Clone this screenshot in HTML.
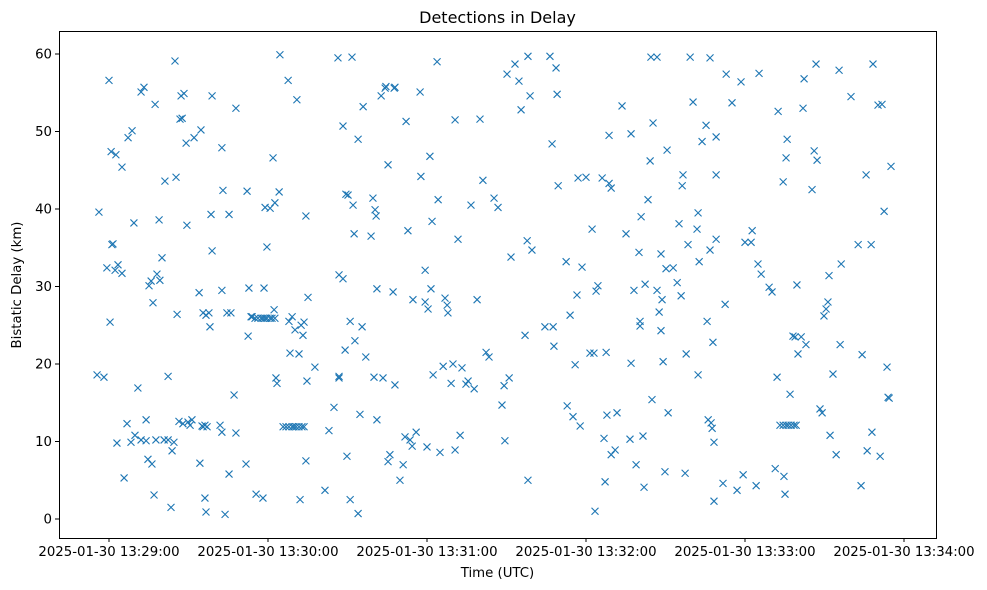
<!DOCTYPE html>
<html><head><meta charset="utf-8">
<style>
html,body{margin:0;padding:0;background:#fff;}
svg{display:block;font-family:"DejaVu Sans","Liberation Sans",sans-serif;}
</style></head>
<body>
<svg id="chart" width="987" height="590" viewBox="0 0 987 590" xmlns="http://www.w3.org/2000/svg">
<rect width="987" height="590" fill="#fff"/>
<text x="497.5" y="23" font-size="16" text-anchor="middle" fill="#000">Detections in Delay</text>
<g id="marks"></g>
<rect x="59.5" y="31.5" width="877" height="507" fill="none" stroke="#000" stroke-width="1"/>
<g id="xticks"></g>
<g id="yticks"></g>
<text x="497.5" y="577" font-size="13.3" text-anchor="middle">Time (UTC)</text>
<text transform="translate(21,285) rotate(-90)" font-size="13.3" text-anchor="middle">Bistatic Delay (km)</text>
</svg>
<script>
// seconds since 2025-01-30 13:29:00 UTC
const timeSec = [-4.5,-3.8,-1.9,-0.8,0,0.4,0.8,1.1,1.5,2.3,2.6,3.0,3.4,4.9,4.9,5.7,6.8,7.2,8.3,8.7,9.4,9.8,10.9,12.1,12.1,13.2,14.0,14.0,14.7,15.1,15.9,16.2,16.6,17.0,17.4,17.7,18.1,18.9,19.2,20.0,20.8,21.1,22.3,22.3,23.4,23.8,24.5,24.9,25.3,25.7,26.4,26.8,27.2,27.6,27.9,28.3,29.1,29.4,29.8,30.6,31.3,32.1,34.0,34.3,34.7,35.1,35.5,35.5,36.2,36.2,36.6,36.6,37.0,37.7,38.1,38.5,38.9,38.9,42.6,41.9,42.6,42.6,43.0,43.8,44.5,45.3,45.3,46.0,47.9,47.9,47.2,51.7,52.1,52.5,52.8,53.6,54.0,
55.1,56.2,57.4,58.1,58.9,59.6,60.8,61.5,62.6,55.5,58.1,58.5,59.6,58.9,60.8,61.9,62.3,62.6,63.0,63.4,64.2,64.5,
65.7,66.8,67.9,69.1,69.8,70.6,71.7,72.8,73.6,67.6,67.9,68.3,69.1,70.2,70.9,71.7,72.1,72.5,73.2,73.6,74.3,74.3,74.7,75.1,77.7,81.5,83.0,84.9,86.4,86.8,86.8,86.8,88.3,88.3,89.1,89.4,89.8,90.2,91.0,91.0,91.7,92.1,92.5,92.8,94.0,94.0,94.7,95.5,95.9,96.9,98.9,99.6,100.0,100.4,100.8,101.1,101.1,102.7,103.4,104.2,104.5,105.3,105.3,106.0,107.2,107.6,107.9,107.9,109.8,111.0,111.7,112.1,112.8,113.6,114.4,114.7,115.9,117.4,117.7,119.3,119.3,120.0,120.4,121.1,121.5,121.9,122.3,123.8,124.2,124.9,126.1,126.8,127.6,127.9,129.1,129.8,130.6,130.6,131.7,132.5,133.2,134.7,135.5,136.6,137.8,138.9,140.0,141.1,142.3,143.4,145.3,146.8,148.3,149.1,149.4,150.2,151.0,151.7,153.2,154.7,155.5,157.0,157.8,158.1,158.1,158.9,159.6,164.5,166.4,167.2,167.6,167.9,168.7,169.1,169.5,172.5,172.9,174.0,175.1,175.9,176.6,177.0,177.8,178.5,180.0,181.5,182.3,183.0,183.4,183.8,184.5,186.1,186.8,187.2,187.6,187.9,188.7,188.7,189.5,189.5,191.0,191.7,193.6,195.1,196.6,197.0,197.0,198.1,198.9,200.0,200.4,200.4,200.8,201.5,201.9,202.3,203.4,204.2,204.5,204.9,205.3,206.8,206.8,207.6,208.3,208.3,208.7,209.1,209.8,210.2,210.6,211.0,212.9,214.4,215.1,215.9,216.3,216.6,217.4,217.8,218.5,219.3,220.4,221.9,222.3,222.3,222.7,223.8,225.3,225.7,226.1,226.8,226.8,227.2,227.6,227.9,228.3,228.3,229.1,229.1,229.1,231.7,232.5,232.9,235.1,237.0,238.5,239.3,240.0,242.3,242.7,244.2,244.9,245.3,246.1,249.1,250.2,251.4,252.1,252.5,
253.2,254.4,255.5,256.3,257.4,258.5,259.3,254.4,254.7,255.1,255.5,255.9,257.0,258.1,258.9,259.6,260.0,261.2,261.9,262.3,263.0,265.3,266.1,266.8,267.2,268.3,269.1,269.8,270.6,271.3,271.7,272.1,273.2,274.4,275.5,275.9,276.3,280.0,282.7,283.8,284.2,285.7,286.1,287.6,287.9,288.3,290.2,291.0,291.7,292.5,293.6,294.0,294.4,295.1];
const delayKm = [18.6,39.6,18.3,32.4,56.6,25.4,47.4,35.4,35.5,32.1,47.0,9.8,32.8,31.7,45.4,5.3,12.3,49.2,9.9,50.1,38.2,10.8,16.9,55.1,10.2,55.7,12.8,10.1,7.7,30.1,30.7,7.1,27.9,3.1,53.5,10.2,31.6,38.6,30.8,33.7,10.2,43.6,18.4,10.2,1.5,8.8,9.9,59.1,44.1,26.4,12.6,51.6,54.6,51.7,12.3,54.9,48.5,37.9,12.5,12.1,12.8,49.2,29.2,7.2,50.2,12.0,26.6,11.9,12.1,2.7,26.3,0.9,11.9,26.6,24.8,39.3,54.6,34.6,47.9,12.1,11.2,29.5,42.4,0.6,26.6,39.3,5.8,26.6,53.0,11.1,16.0,7.1,42.3,23.6,29.8,26.1,26.1,
25.9,25.9,25.9,25.9,25.9,25.9,25.9,25.9,25.9,3.2,2.7,29.8,35.1,40.2,40.1,46.6,27.0,40.8,18.2,17.5,42.2,59.9,
11.9,11.9,11.9,11.9,11.9,11.9,11.9,11.9,11.9,56.6,25.5,21.4,26.1,24.4,54.1,21.3,2.5,25.0,23.7,25.4,39.1,7.5,17.8,28.6,19.6,3.7,11.4,14.4,59.5,31.5,18.4,18.2,31.0,50.7,21.8,41.9,8.1,41.8,25.5,2.5,59.6,40.5,36.8,23.0,49.0,0.7,13.5,24.8,53.2,20.9,36.5,41.4,18.3,39.9,39.1,12.8,29.7,54.6,18.2,55.6,55.8,45.7,7.4,8.3,29.3,55.6,55.7,17.3,5.0,7.0,10.6,51.3,37.2,10.2,9.4,28.3,11.2,55.1,44.2,32.1,28.0,9.3,27.1,46.8,29.7,38.4,18.6,59.0,41.2,8.6,19.7,28.5,27.6,26.6,17.5,20.0,51.5,8.9,36.1,10.8,19.5,17.4,17.8,40.5,16.8,28.3,51.6,43.7,21.5,20.9,41.4,40.2,14.7,17.2,10.1,57.4,18.2,33.8,58.7,56.5,52.8,23.7,35.9,5.0,59.7,54.6,34.7,24.8,59.7,48.4,24.8,22.3,58.2,54.8,43.0,33.2,14.6,26.3,13.2,19.9,28.9,44.0,12.0,32.5,44.1,21.4,37.4,21.4,1.0,29.4,30.1,44.0,10.4,4.8,21.5,13.4,49.5,43.3,42.7,8.3,8.9,13.7,53.3,36.8,10.3,20.1,49.7,29.5,7.0,34.4,24.9,25.5,39.0,10.7,4.1,30.3,41.2,46.2,59.6,15.4,51.1,59.6,29.5,26.7,34.2,24.3,28.3,20.3,6.1,32.3,47.6,13.7,32.4,30.5,38.1,28.8,43.0,44.4,5.9,21.3,35.4,59.6,53.8,37.4,18.6,39.5,33.2,48.7,50.8,25.5,12.8,59.5,34.7,12.4,11.7,22.8,9.9,2.3,44.4,36.1,49.3,4.6,27.7,57.4,53.7,3.7,56.4,5.7,35.7,35.7,37.2,4.3,32.9,57.5,31.6,29.9,29.3,6.5,18.3,52.6,
12.1,12.1,12.1,12.1,12.1,12.1,12.1,43.5,5.5,3.2,46.6,49.0,16.1,23.6,23.5,30.2,21.3,23.5,53.0,56.8,22.5,42.5,47.5,58.7,46.3,14.2,13.7,26.2,27.1,28.0,31.4,10.8,18.7,8.3,57.9,22.5,32.9,54.5,35.4,4.3,21.2,44.4,8.8,35.4,11.2,58.7,53.4,8.1,53.5,39.7,19.6,15.7,15.6,45.5];
const xTickSec = [0,60,120,180,240,300];
const xTickLabels = ["2025-01-30 13:29:00","2025-01-30 13:30:00","2025-01-30 13:31:00","2025-01-30 13:32:00","2025-01-30 13:33:00","2025-01-30 13:34:00"];
const yTickVals = [0,10,20,30,40,50,60];

const NS = "http://www.w3.org/2000/svg";
const xScale = s => 109 + s * (159 / 60);
const yScale = v => 519 - v * 7.75;

const marks = document.getElementById('marks');
const n = Math.min(timeSec.length, delayKm.length);
for (let i = 0; i < n; i++) {
  const cx = xScale(timeSec[i]), cy = yScale(delayKm[i]), r = 3.5;
  const p = document.createElementNS(NS, 'path');
  p.setAttribute('d', `M${cx-r},${cy-r}L${cx+r},${cy+r}M${cx-r},${cy+r}L${cx+r},${cy-r}`);
  p.setAttribute('stroke', '#1f77b4');
  p.setAttribute('stroke-width', '1.1');
  p.setAttribute('fill', 'none');
  
  
  marks.appendChild(p);
}

const xt = document.getElementById('xticks');
xTickSec.forEach((s, i) => {
  const x = xScale(s);
  const l = document.createElementNS(NS, 'line');
  l.setAttribute('x1', x); l.setAttribute('x2', x);
  l.setAttribute('y1', 538); l.setAttribute('y2', 542);
  l.setAttribute('stroke', '#000');
  
  
  xt.appendChild(l);
  const t = document.createElementNS(NS, 'text');
  t.setAttribute('x', x); t.setAttribute('y', 556);
  t.setAttribute('font-size', '13.3');
  t.setAttribute('text-anchor', 'middle');
  t.textContent = xTickLabels[i];
  
  
  xt.appendChild(t);
});

const yt = document.getElementById('yticks');
yTickVals.forEach(v => {
  const y = yScale(v);
  const l = document.createElementNS(NS, 'line');
  l.setAttribute('x1', 55); l.setAttribute('x2', 59);
  l.setAttribute('y1', y); l.setAttribute('y2', y);
  l.setAttribute('stroke', '#000');
  
  
  yt.appendChild(l);
  const t = document.createElementNS(NS, 'text');
  t.setAttribute('x', 52); t.setAttribute('y', y + 4.5);
  t.setAttribute('font-size', '13.3');
  t.setAttribute('text-anchor', 'end');
  t.textContent = String(v);
  
  
  yt.appendChild(t);
});
</script>
</body></html>
